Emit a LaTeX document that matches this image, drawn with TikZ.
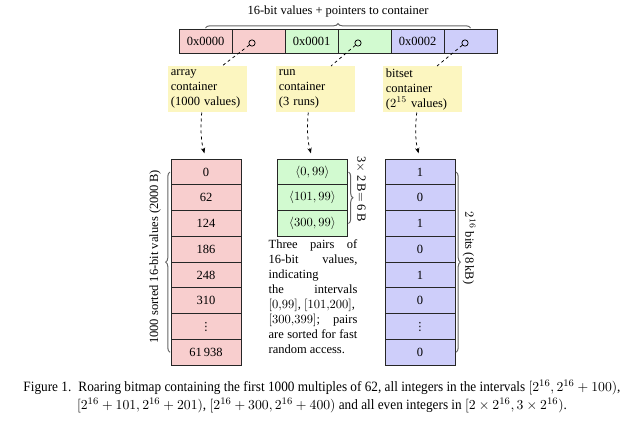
\documentclass[tikz,border=0pt]{standalone}
\usepackage{fontspec}
\setmainfont{Liberation Serif}
\newfontfamily\capfont[FakeStretch=0.93]{Liberation Serif}
\newfontfamily\dotsfont{DejaVu Sans}
\usetikzlibrary{positioning,calc,arrows.meta,decorations.pathreplacing}

\definecolor{arrpink}{RGB}{248,206,206}
\definecolor{rungreen}{RGB}{210,250,208}
\definecolor{bitblue}{RGB}{206,206,250}
\definecolor{noteyellow}{RGB}{252,246,192}

\newcommand{\celldots}{{\dotsfont\fontsize{9}{9}\selectfont ⋮}}

\tikzset{
  cell/.style={draw=black!85, line width=0.8pt, minimum width=56pt, minimum height=20.6pt, inner sep=0pt, outer sep=0pt},
  keycell/.style={draw=black!85, line width=0.8pt, minimum width=42.4pt, minimum height=19.2pt, inner sep=0pt, outer sep=0pt},
  note/.style={fill=noteyellow, text width=59pt, minimum height=36.8pt, align=left, inner xsep=2.1pt, inner ysep=1pt, anchor=north west},
  ptr/.style={circle, draw, inner sep=0pt, minimum size=5pt, line width=0.6pt},
  link/.style={dash pattern=on 2.4pt off 2.4pt, line width=0.6pt},
  down/.style={link, -{Stealth[length=4.5pt,width=3.5pt]}, shorten >=4.8pt},
  brace/.style={decorate, decoration={brace, amplitude=3.5pt}, draw=black!60, line width=0.8pt},
}

\begin{document}
\begin{tikzpicture}[x=0.8pt, y=-0.8pt]
  \useasboundingbox (0,0) rectangle (642,420);

  % keys and pointers
  \node[keycell, fill=arrpink] (k1) at (205.5,41) {0x0000};
  \node[keycell, fill=arrpink] (p1) at (258.5,41) {};
  \node[keycell, fill=rungreen] (k2) at (311.5,41) {0x0001};
  \node[keycell, fill=rungreen] (p2) at (364.5,41) {};
  \node[keycell, fill=bitblue] (k3) at (417.5,41) {0x0002};
  \node[keycell, fill=bitblue] (p3) at (470.5,41) {};
  \node[ptr] (o1) at (252,43) {};
  \node[ptr] (o2) at (358,43) {};
  \node[ptr] (o3) at (465,43) {};

  \draw[brace] (205.5,28) -- (470.5,28);
  \node (title) at (338,11) {16-bit values + pointers to container};

  % notes
  \node[note] (n1) at (168,66) {array\\container\\(1000 values)};
  \node[note] (n2) at (276,66) {run\\container\\(3 runs)};
  \node[note] (n3) at (383,66) {bitset\\container\\($2^{15}$ values)};
  \coordinate (t1) at (222,66);
  \coordinate (t2) at (331,66);
  \coordinate (t3) at (437,66);
  \draw[link] (o1) -- (t1);
  \draw[link] (o2) -- (t2);
  \draw[link] (o3) -- (t3);

  % array container
  \node[cell, fill=arrpink] (a1) at (206,172) {0};
  \node[cell, fill=arrpink] (a2) at (206,197.75) {62};
  \node[cell, fill=arrpink] (a3) at (206,223.5) {124};
  \node[cell, fill=arrpink] (a4) at (206,249.25) {186};
  \node[cell, fill=arrpink] (a5) at (206,275) {248};
  \node[cell, fill=arrpink] (a6) at (206,300.75) {310};
  \node[cell, fill=arrpink] (a7) at (206,326.5) {\celldots};
  \node[cell, fill=arrpink] (a8) at (206,352.25) {61\,938};

  % run container
  \node[cell, fill=rungreen] (r1) at (312.5,172) {$\langle 0,99\rangle$};
  \node[cell, fill=rungreen] (r2) at (312.5,197.75) {$\langle 101,99\rangle$};
  \node[cell, fill=rungreen] (r3) at (312.5,223.5) {$\langle 300,99\rangle$};

  % bitset container
  \node[cell, fill=bitblue] (b1) at (420,172) {1};
  \node[cell, fill=bitblue] (b2) at (420,197.75) {0};
  \node[cell, fill=bitblue] (b3) at (420,223.5) {1};
  \node[cell, fill=bitblue] (b4) at (420,249.25) {0};
  \node[cell, fill=bitblue] (b5) at (420,275) {1};
  \node[cell, fill=bitblue] (b6) at (420,300.75) {0};
  \node[cell, fill=bitblue] (b7) at (420,326.5) {\celldots};
  \node[cell, fill=bitblue] (b8) at (420,352.25) {0};

  \draw[down] ([xshift=-4.8pt]n1.south) to[bend right=10] (a1.north);
  \draw[down] ([xshift=-6pt]n2.south) to[bend right=10] (r1.north);
  \draw[down] ([xshift=-4.8pt]n3.south) to[bend right=10] (b1.north);

  % sizes
  \draw[brace] ([xshift=-0.8pt]a8.west) -- ([xshift=-0.8pt]a1.west);
  \node[rotate=90] (asize) at (155,257) {1000 sorted 16-bit values (2000\,B)};
  \draw[brace] ([xshift=0.8pt]r1.east) -- ([xshift=0.8pt]r3.east);
  \node[rotate=-90] (rsize) at (361,189) {3$\times$ 2\,B$=$ 6\,B};
  \draw[brace] ([xshift=0.8pt]b1.east) -- ([xshift=0.8pt]b8.east);
  \node[rotate=-90] (bsize) at (469,248) {$2^{16}$ bits (8\,kB)};

  \node[text width=71pt, align=justify, anchor=north, inner sep=0pt] (rnote) at (313,239)
    {Three pairs of\linebreak 16-bit values,\linebreak indicating\linebreak the intervals\linebreak
     \mbox{$[0,\!99]$, $[101,\!200]$,}\linebreak $[300,\!399]$; pairs\linebreak are sorted for fast\linebreak random access.};

  % caption
  \node[font=\capfont\fontsize{11.4}{14.4}\selectfont, align=center] (caption) at (322,396)
    {Figure 1.\enspace Roaring bitmap containing the first 1000 multiples of 62, all integers in the intervals $[2^{16},2^{16}+100)$,\\
     $[2^{16}+101,2^{16}+201)$, $[2^{16}+300,2^{16}+400)$ and all even integers in $[2\times 2^{16},3\times 2^{16})$.};
\end{tikzpicture}
\end{document}
